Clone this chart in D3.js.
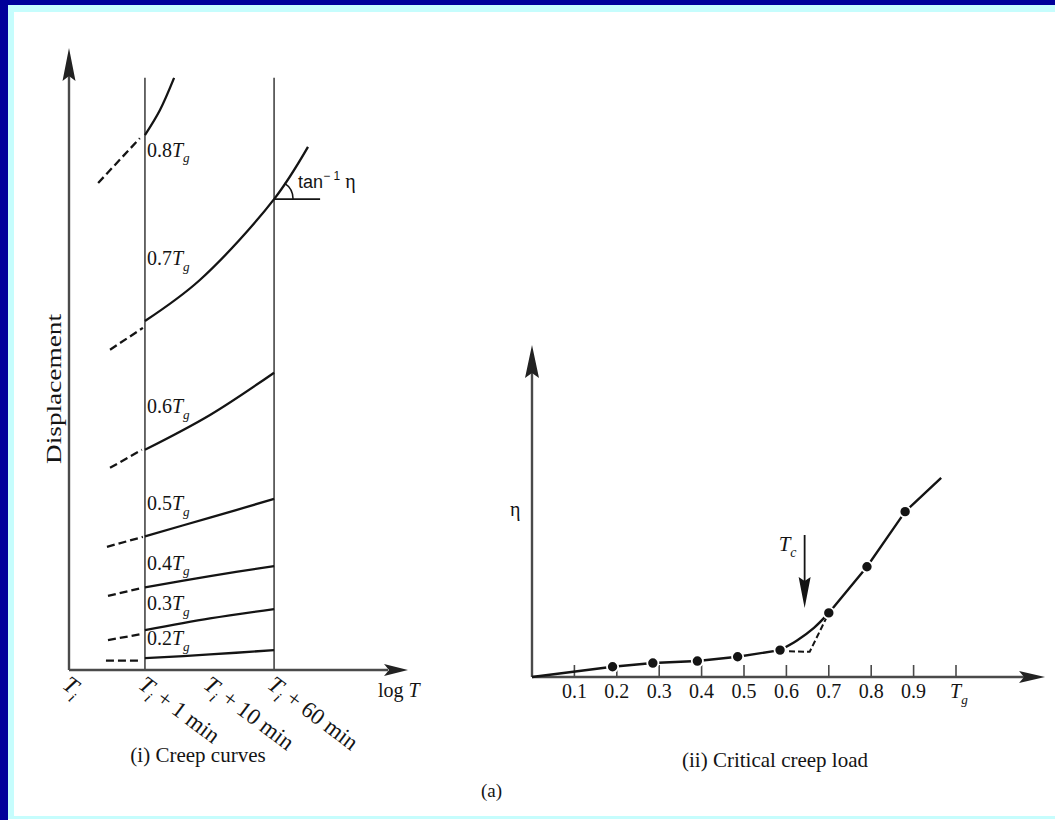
<!DOCTYPE html>
<html><head><meta charset="utf-8">
<script src="https://cdn.jsdelivr.net/npm/d3@7/dist/d3.min.js"></script>
<style>html,body{margin:0;padding:0;background:#fff;} svg{display:block;}</style>
</head><body>
<svg id="c" width="1055" height="820"></svg>
<script>
// ================= DATA =================
// (i) Creep curves — x in log-time position units, y in displacement units
const creepTickPos    = [0, 2.24, 4.16, 6.05];
const creepTickLabels = ["T_i", "T_i + 1 min", "T_i + 10 min", "T_i + 60 min"];
const loadLevels      = ["0.2", "0.3", "0.4", "0.5", "0.6", "0.7", "0.8"];
const creepDashed = [
  [[1.09, 0.15], [2.12, 0.15]],
  [[1.15, 0.48], [2.15, 0.58]],
  [[1.15, 1.19], [2.15, 1.32]],
  [[1.12, 1.98], [2.18, 2.14]],
  [[1.21, 3.25], [2.15, 3.54]],
  [[1.21, 5.15], [2.18, 5.50]],
  [[0.86, 7.83], [2.09, 8.55]]
];
const creepSolid = [
  [[2.24, 0.19], [4.16, 0.25], [6.05, 0.32]],
  [[2.24, 0.64], [4.16, 0.83], [6.05, 0.98]],
  [[2.24, 1.33], [4.16, 1.51], [6.05, 1.67]],
  [[2.24, 2.15], [4.16, 2.45], [6.05, 2.75]],
  [[2.24, 3.54], [4.16, 4.10], [6.05, 4.78]],
  [[2.24, 5.61], [3.86, 6.27], [6.05, 7.57], [7.05, 8.41]],
  [[2.24, 8.60], [2.68, 9.00], [3.10, 9.52]]
];
const creepLabelAnchor = [[2.30, 0.40], [2.30, 0.96], [2.30, 1.61], [2.30, 2.57], [2.30, 4.13], [2.30, 6.51], [2.30, 8.25]];

// (ii) Critical creep load — x = load ratio, y = eta
const ratioTicks   = [0.1, 0.2, 0.3, 0.4, 0.5, 0.6, 0.7, 0.8, 0.9];
const loadRatio    = [0.19, 0.285, 0.39, 0.485, 0.585, 0.70, 0.79, 0.88];
const etaValues    = [0.31, 0.42, 0.48, 0.61, 0.81, 1.93, 3.32, 4.98];
const etaLineStart = [0, 0];
const etaLineEnd   = [0.965, 6.0];
const kneeSolid    = [[0.585, 0.81], [0.625, 1.10], [0.665, 1.48], [0.70, 1.93]];
const kneeDashed   = [[0.585, 0.78], [0.655, 0.76], [0.70, 1.93]];
const criticalLoad = 0.643;

// ================= DRAW =================
const W = 1055, H = 820;
const svg = d3.select("#c");
const SERIF = "'Liberation Serif','Times New Roman',serif";
const SANS = "'Liberation Sans',Arial,sans-serif";
const INK = "#141414", AX = "#4a4a4a";

// frame
svg.append("rect").attr("width", W).attr("height", H).attr("fill", "#00009a");
svg.append("rect").attr("x", 8).attr("y", 5).attr("width", W - 8).attr("height", H - 5).attr("fill", "#c6fdfd");
svg.append("rect").attr("x", 14).attr("y", 12).attr("width", W - 14).attr("height", 804).attr("fill", "#ffffff");
svg.append("rect").attr("x", 8).attr("y", 819).attr("width", W - 8).attr("height", 1).attr("fill", "#ffffff");

function richText(g, str, size) {
  // str like "0.8T_g" : italic T with subscript
  const t = g.append("text").attr("font-family", SERIF).attr("font-size", size).attr("fill", INK);
  const m = str.match(/^(.*?)([A-Z])_([a-z])(.*)$/);
  if (!m) { t.text(str); return t; }
  if (m[1]) t.append("tspan").text(m[1]);
  t.append("tspan").attr("font-style", "italic").text(m[2]);
  t.append("tspan").attr("font-style", "italic").attr("font-size", size * 0.66).attr("dy", size * 0.28).text(m[3]);
  if (m[4]) t.append("tspan").attr("dy", -size * 0.28).text(m[4]);
  return t;
}
function arrowUp(g, x, yTip, len, hw, col) {
  g.append("path").attr("d", `M${x},${yTip} L${x - hw},${yTip + len} L${x},${yTip + len - 5} L${x + hw},${yTip + len} Z`).attr("fill", col);
}
function arrowRight(g, xTip, y, len, hw, col) {
  g.append("path").attr("d", `M${xTip},${y} L${xTip - len},${y - hw} L${xTip - len + 5},${y} L${xTip - len},${y + hw} Z`).attr("fill", col);
}

// ---------- (i) Creep curves ----------
const xL = d3.scaleLinear().domain([0, 10]).range([69, 408]);
const yL = d3.scaleLinear().domain([0, 10]).range([670, 48]);
const gL = svg.append("g");

[creepTickPos[1], creepTickPos[3]].forEach(v => {
  gL.append("line").attr("x1", xL(v)).attr("x2", xL(v)).attr("y1", yL(0)).attr("y2", yL(9.52))
    .attr("stroke", "#5a5a5a").attr("stroke-width", 1.8);
});
gL.append("line").attr("x1", xL(0)).attr("x2", xL(0)).attr("y1", yL(0)).attr("y2", yL(10) + 20).attr("stroke", AX).attr("stroke-width", 2.4);
arrowUp(gL, xL(0), yL(10), 33, 6.5, "#222");
gL.append("line").attr("x1", xL(0)).attr("x2", xL(10) - 20).attr("y1", yL(0)).attr("y2", yL(0)).attr("stroke", AX).attr("stroke-width", 2.4);
arrowRight(gL, xL(10), yL(0), 24, 6, "#222");

const lineL = d3.line().x(d => xL(d[0])).y(d => yL(d[1])).curve(d3.curveCatmullRom);
creepDashed.forEach(seg => {
  gL.append("path").attr("d", lineL(seg)).attr("fill", "none").attr("stroke", INK)
    .attr("stroke-width", 2.3).attr("stroke-dasharray", "8,4");
});
creepSolid.forEach(seg => {
  gL.append("path").attr("d", lineL(seg)).attr("fill", "none").attr("stroke", INK).attr("stroke-width", 2.3);
});
loadLevels.forEach((lv, i) => {
  richText(gL, lv + "T_g", 20).attr("x", xL(creepLabelAnchor[i][0])).attr("y", yL(creepLabelAnchor[i][1]));
});

// tan^-1 eta annotation
{
  const px = xL(creepTickPos[3]), py = yL(7.57);
  gL.append("line").attr("x1", px).attr("x2", px + 46).attr("y1", py).attr("y2", py).attr("stroke", INK).attr("stroke-width", 1.6);
  const r = 19, ang = Math.atan2(yL(7.57) - yL(8.41), xL(7.05) - xL(6.05));
  gL.append("path").attr("d", `M${px + r},${py} A${r},${r} 0 0 0 ${px + r * Math.cos(ang)},${py - r * Math.sin(ang)}`)
    .attr("fill", "none").attr("stroke", INK).attr("stroke-width", 1.5);
  const t = gL.append("text").attr("x", px + 24).attr("y", py - 11).attr("font-family", SANS).attr("font-size", 18).attr("fill", INK);
  t.append("tspan").text("tan");
  t.append("tspan").attr("font-size", 12).attr("dy", -8).text("\u2212 1");
  t.append("tspan").attr("dy", 8).attr("font-family", SERIF).attr("font-size", 20).text(" \u03B7");
}

// rotated tick labels
creepTickPos.forEach((v, i) => {
  const g = gL.append("g").attr("transform", `translate(${xL(v) + 3},${yL(0) + 3}) rotate(37)`);
  richText(g, creepTickLabels[i], 23).attr("dy", "0.78em");
});
{
  const t = gL.append("text").attr("x", 378).attr("y", 697).attr("font-family", SERIF).attr("font-size", 20).attr("fill", INK);
  t.append("tspan").text("log ");
  t.append("tspan").attr("font-style", "italic").text("T");
}
gL.append("text").attr("transform", `translate(61,${(312 + 466) / 2}) rotate(-90)`).attr("text-anchor", "middle")
  .attr("font-family", SERIF).attr("font-size", 21).attr("fill", INK)
  .attr("textLength", 150).attr("lengthAdjust", "spacingAndGlyphs").text("Displacement");
gL.append("text").attr("x", 198).attr("y", 762).attr("text-anchor", "middle").attr("font-family", SERIF)
  .attr("font-size", 21).attr("fill", INK).text("(i) Creep curves");

// ---------- (ii) Critical creep load ----------
const xR = d3.scaleLinear().domain([0, 1]).range([532, 956]);
const yR = d3.scaleLinear().domain([0, 10]).range([677, 345]);
const gR = svg.append("g");
const xEnd = 1.21;

gR.append("line").attr("x1", xR(0)).attr("x2", xR(0)).attr("y1", yR(0)).attr("y2", yR(10) + 20).attr("stroke", AX).attr("stroke-width", 2.4);
arrowUp(gR, xR(0), yR(10), 33, 7, "#222");
gR.append("line").attr("x1", xR(0)).attr("x2", xR(xEnd) - 20).attr("y1", yR(0)).attr("y2", yR(0)).attr("stroke", AX).attr("stroke-width", 2.4);
arrowRight(gR, xR(xEnd), yR(0), 26, 6, "#222");

ratioTicks.concat([1.0]).forEach(v => {
  gR.append("line").attr("x1", xR(v)).attr("x2", xR(v)).attr("y1", yR(0)).attr("y2", yR(0) - 12).attr("stroke", AX).attr("stroke-width", 1.6);
});
ratioTicks.forEach(v => {
  gR.append("text").attr("x", xR(v)).attr("y", 698).attr("text-anchor", "middle").attr("font-family", SERIF)
    .attr("font-size", 20).attr("fill", INK).text(d3.format(".1f")(v));
});
richText(gR, "T_g", 20).attr("x", xR(1.0) - 6).attr("y", 698);
gR.append("text").attr("x", 510).attr("y", 516).attr("font-family", SERIF).attr("font-size", 20).attr("fill", INK).text("\u03B7");

const lineR = d3.line().x(d => xR(d[0])).y(d => yR(d[1]));
const pts = loadRatio.map((v, i) => [v, etaValues[i]]);
const lowPart = [etaLineStart].concat(pts.slice(0, 5));
const highPart = pts.slice(5).concat([etaLineEnd]);
gR.append("path").attr("d", lineR(lowPart)).attr("fill", "none").attr("stroke", INK).attr("stroke-width", 2.4);
gR.append("path").attr("d", d3.line().x(d => xR(d[0])).y(d => yR(d[1])).curve(d3.curveCatmullRom)(kneeSolid))
  .attr("fill", "none").attr("stroke", INK).attr("stroke-width", 2.4);
gR.append("path").attr("d", lineR(kneeDashed)).attr("fill", "none").attr("stroke", INK)
  .attr("stroke-width", 2).attr("stroke-dasharray", "6,3");
gR.append("path").attr("d", lineR(highPart)).attr("fill", "none").attr("stroke", INK).attr("stroke-width", 2.4);
gR.selectAll("circle.pt").data(pts).enter().append("circle")
  .attr("cx", d => xR(d[0])).attr("cy", d => yR(d[1])).attr("r", 5.6)
  .attr("fill", INK).attr("stroke", "#fff").attr("stroke-width", 1.8);

// critical load arrow
{
  const ax = xR(criticalLoad);
  gR.append("line").attr("x1", ax).attr("x2", ax).attr("y1", 535).attr("y2", 585).attr("stroke", INK).attr("stroke-width", 1.8);
  gR.append("path").attr("d", `M${ax},608 L${ax - 6},577 L${ax},581 L${ax + 6},577 Z`).attr("fill", INK);
  richText(gR, "T_c", 21).attr("x", ax - 26).attr("y", 551);
}
gR.append("text").attr("x", 775).attr("y", 767).attr("text-anchor", "middle").attr("font-family", SERIF)
  .attr("font-size", 21).attr("fill", INK).text("(ii) Critical creep load");
gR.append("text").attr("x", 481).attr("y", 797).attr("font-family", SERIF).attr("font-size", 19).attr("fill", INK).text("(a)");
</script>
</body></html>
